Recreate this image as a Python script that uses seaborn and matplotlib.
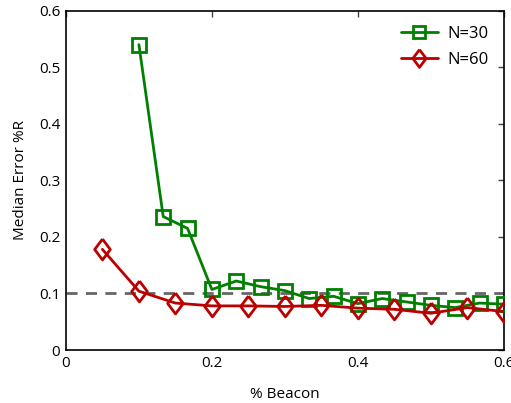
import matplotlib
matplotlib.use("Agg")
import matplotlib.pyplot as plt
import seaborn as sns
import pandas as pd

x30 = [0.1, 0.1333, 0.1667, 0.2, 0.2333, 0.2667, 0.3, 0.3333, 0.3667, 0.4, 0.4333, 0.4667, 0.5, 0.5333, 0.5667, 0.6]
y30 = [0.540, 0.236, 0.215, 0.107, 0.122, 0.112, 0.105, 0.091, 0.095, 0.082, 0.091, 0.085, 0.079, 0.075, 0.083, 0.081]
x60 = [0.05, 0.1, 0.15, 0.2, 0.25, 0.3, 0.35, 0.4, 0.45, 0.5, 0.55, 0.6]
y60 = [0.178, 0.104, 0.083, 0.078, 0.078, 0.077, 0.079, 0.074, 0.072, 0.065, 0.075, 0.068]
labels = ["N=30", "N=60"]
ref_level = 0.1

sns.set_style("white")
plt.rcParams['font.family'] = ['Open Sans', 'DejaVu Sans']
plt.rcParams['text.color'] = 'black'
plt.rcParams['axes.labelcolor'] = 'black'
plt.rcParams['xtick.color'] = 'black'
plt.rcParams['ytick.color'] = 'black'

df = pd.concat([
    pd.DataFrame({"x": x30, "y": y30, "N": labels[0]}),
    pd.DataFrame({"x": x60, "y": y60, "N": labels[1]}),
])

tall_diamond = [(0, 1), (0.75, 0), (0, -1), (-0.75, 0), (0, 1)]
colors = {"N=30": "#008000", "N=60": "#bb0000"}

fig = plt.figure(figsize=(5.11, 4.03), dpi=100)
ax = fig.add_axes([0.129, 0.1315, 0.857, 0.842])

ax.axhline(ref_level, color="#666666", linestyle=(0, (4, 3)), linewidth=2, zorder=1)

sns.lineplot(data=df, x="x", y="y", hue="N", style="N",
             palette=colors,
             markers={"N=30": "s", "N=60": tall_diamond}, dashes=False,
             linewidth=2, ax=ax, zorder=3)

sizes = {"N=30": 10, "N=60": 15}
for line, lab in zip(ax.get_lines()[1:3], labels):
    line.set_markeredgecolor(colors[lab])
    line.set_markerfacecolor("none")
    line.set_markeredgewidth(2)
    line.set_markersize(sizes[lab])

ax.set_xlim(0, 0.6)
ax.set_ylim(0, 0.6)
ax.set_xticks([0, 0.2, 0.4, 0.6])
ax.set_xticklabels(["0", "0.2", "0.4", "0.6"])
ax.set_yticks([0, 0.1, 0.2, 0.3, 0.4, 0.5, 0.6])
ax.set_yticklabels(["0", "0.1", "0.2", "0.3", "0.4", "0.5", "0.6"])
ax.tick_params(direction="in", top=True, right=True, length=4, width=1,
               labelsize=11, color="#444444", labelcolor="black", pad=4)
for s in ax.spines.values():
    s.set_visible(True)
    s.set_color("black")
    s.set_linewidth(1.2)

ax.set_xlabel("% Beacon", fontsize=11, labelpad=12)
ax.set_ylabel("Median Error %R", fontsize=11, labelpad=8)

leg = ax.legend(loc="upper right", frameon=False, fontsize=12, handlelength=2.2,
                borderaxespad=0.5, labelspacing=0.6, handletextpad=0.6)
for h, lab in zip(leg.legend_handles, labels):
    h.set_markerfacecolor("none")
    h.set_markeredgecolor(colors[lab])
    h.set_markeredgewidth(2)
    h.set_markersize(sizes[lab] * 0.85)

fig.savefig("out.png", dpi=100)
